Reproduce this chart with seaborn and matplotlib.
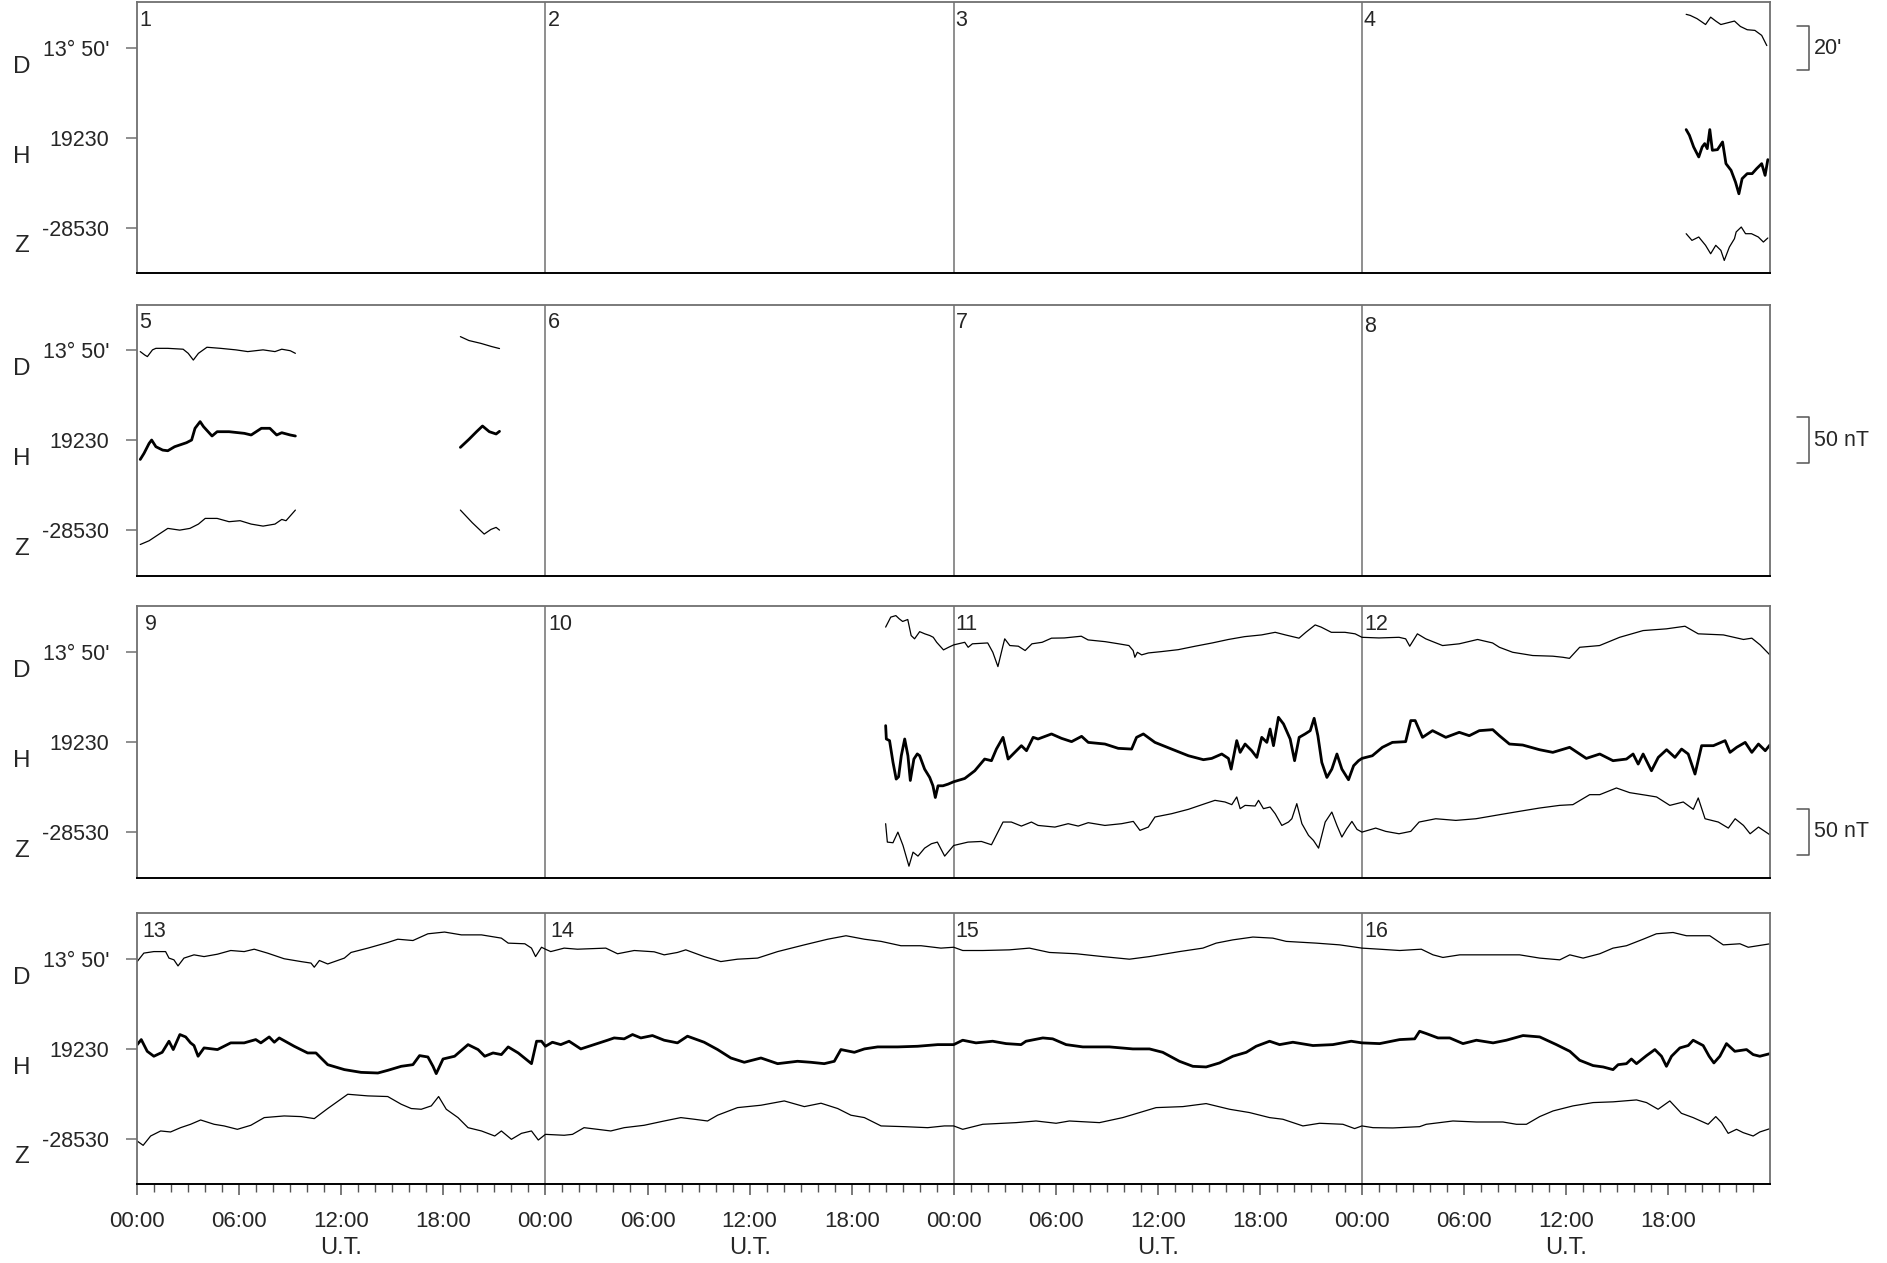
import numpy as np
import pandas as pd
import matplotlib
matplotlib.use("Agg")
import matplotlib.pyplot as plt
import matplotlib.transforms as mtransforms
import seaborn as sns

sns.set_style("white")
plt.rcParams["font.family"] = ["Liberation Sans", "DejaVu Sans"]

# ==========================================
# DATA
# time = hours since day 1 00:00 UT
# D in arcmin from 13°50', H in nT from 19230, Z in nT from -28530
# ==========================================

# day 4, evening piece
DAY4_D_T = [91.06, 91.3, 91.7, 92.0, 92.2, 92.5, 92.8, 93.1, 93.4, 93.9, 94.25, 94.65, 95.1, 95.5, 95.8]
DAY4_D = [15.6, 15.1, 13.6, 12.0, 10.9, 14.3, 12.5, 10.9, 11.5, 12.5, 10.0, 8.5, 8.2, 5.9, 1.2]
DAY4_H_T = [91.06, 91.25, 91.5, 91.8, 92.0, 92.15, 92.3, 92.45, 92.6, 92.9, 93.2, 93.4, 93.7,
            93.96, 94.16, 94.35, 94.65, 94.94, 95.2, 95.5, 95.7, 95.86]
DAY4_H = [9.1, 2.9, -9.9, -20.8, -9.9, -6.2, -11.7, 9.1, -13.5, -12.8, -4.4, -28.1, -35.4,
          -48.2, -61.0, -44.5, -39.0, -39.0, -33.6, -28.1, -40.9, -23.7]
DAY4_Z_T = [91.06, 91.4, 91.8, 92.2, 92.5, 92.8, 93.1, 93.3, 93.6, 93.9, 94.0, 94.3, 94.55,
            94.9, 95.3, 95.6, 95.86]
DAY4_Z = [-6.6, -13.9, -10.2, -19.3, -28.5, -19.3, -24.8, -35.8, -21.2, -12.0, -4.7, 0.7, -6.6,
          -6.6, -10.2, -15.7, -11.3]

# day 5, morning piece
DAY5A_D_T = [96.18, 96.45, 96.6, 96.9, 97.1, 97.8, 98.7, 99.0, 99.3, 99.6, 100.1, 100.9, 101.8,
             102.5, 103.4, 104.1, 104.5, 105.0, 105.3]
DAY5A_D = [-0.6, -2.2, -2.9, 0.2, 0.9, 0.9, 0.5, -1.4, -4.5, -1.4, 1.4, 0.9, 0.2,
           -0.6, 0.2, -0.6, 0.5, -0.2, -1.4]
DAY5A_H_T = [96.18, 96.4, 96.7, 96.85, 97.1, 97.5, 97.8, 98.2, 98.9, 99.2, 99.4, 99.7, 99.9,
             100.4, 100.7, 101.4, 102.3, 102.7, 103.3, 103.8, 104.2, 104.5, 105.0, 105.3]
DAY5A_H = [-21.2, -14.6, -3.7, 0.0, -7.3, -11.0, -11.7, -7.3, -2.9, 0.0, 12.8, 20.1, 14.6,
           4.4, 9.1, 9.1, 7.3, 5.5, 12.8, 12.8, 5.5, 8.0, 5.5, 4.4]
DAY5A_Z_T = [96.18, 96.7, 97.35, 97.8, 98.5, 99.1, 99.6, 100.0, 100.7, 101.4, 102.05, 102.7,
             103.4, 104.1, 104.5, 104.75, 105.3]
DAY5A_Z = [-16.1, -12.0, -4.0, 1.5, -0.4, 1.5, 6.2, 12.4, 12.4, 8.8, 9.9, 6.2,
           4.0, 6.2, 11.3, 9.9, 21.5]

# day 5, evening piece
DAY5B_D_T = [115.0, 115.5, 116.2, 116.85, 117.3]
DAY5B_D = [6.3, 4.5, 3.2, 1.7, 0.8]
DAY5B_H_T = [115.0, 115.5, 115.95, 116.3, 116.7, 117.1, 117.3]
DAY5B_H = [-8.0, 0.7, 9.1, 15.3, 9.1, 6.6, 9.5]
DAY5B_Z_T = [115.0, 115.7, 116.4, 116.8, 117.1, 117.3]
DAY5B_Z = [21.5, 7.7, -4.7, 0.4, 2.6, -0.4]

# day 10 20:00 to end of day 12
ROW3_D_T = [236.0, 236.3, 236.6, 236.8, 237.0, 237.3, 237.5, 237.7, 238.0, 238.3, 238.6, 238.8,
            239.0, 239.4, 239.7, 240.0, 240.65, 240.85, 241.1, 242.0, 242.3, 242.6, 242.9, 243.0,
            243.3, 243.8, 244.2, 244.6, 245.2, 245.75, 246.5, 247.5, 247.9, 248.9, 249.7, 250.3,
            250.55, 250.65, 250.8, 251.05, 251.45, 252.2, 253.2, 254.2, 255.2, 256.15, 257.1,
            258.1, 258.9, 259.5, 260.3, 260.7, 261.25, 261.6, 262.2, 263.0, 263.6,
            264.0, 265.0, 266.18, 266.57, 266.81, 267.26, 267.75, 268.74, 269.72, 270.8, 271.68,
            272.08, 272.86, 274.04, 275.22, 275.81, 276.2, 276.8, 277.97, 279.15, 280.53, 281.9,
            282.99, 283.77, 285.25, 286.43, 286.92, 287.41, 287.98]
ROW3_D = [11.6, 16.2, 16.9, 15.4, 14.2, 15.1, 7.7, 6.2, 9.5, 8.5, 7.7, 6.9,
          4.6, 1.1, 2.3, 3.4, 4.6, 2.3, 3.9, 4.3, 0.0, -6.6, 3.1, 6.2,
          3.1, 2.8, 0.8, 3.9, 4.6, 6.5, 6.6, 7.4, 5.7, 4.9, 3.9, 3.1,
          0.8, -2.3, 0.0, -1.2, -0.3, 0.3, 1.2, 2.8, 4.3, 5.9, 7.2,
          8.0, 9.2, 8.0, 6.5, 9.2, 12.6, 11.6, 9.2, 9.2, 8.5,
          6.9, 6.6, 6.9, 6.2, 2.8, 8.5, 6.2, 3.1, 3.9, 5.9, 4.3,
          2.3, 0.0, -1.5, -1.8, -2.3, -2.8, 2.3, 3.1, 6.9, 10.0, 10.8,
          12.0, 8.5, 8.0, 5.9, 6.5, 3.4, -1.2]
ROW3_H_T = [236.0, 236.04, 236.23, 236.43, 236.62, 236.76, 236.92, 237.12, 237.31, 237.45,
            237.66, 237.86, 238.0, 238.29, 238.59, 238.78, 238.92, 239.08, 239.37, 239.67,
            240.0, 240.65, 241.24, 241.82, 242.22, 242.51, 242.9, 243.2, 243.59, 243.98,
            244.28, 244.67, 244.96, 245.75, 246.34, 246.93, 247.52, 247.91, 248.89, 249.67,
            250.46, 250.75, 251.15, 251.83, 252.81, 253.8, 254.68, 255.17, 255.76, 256.15,
            256.31, 256.64, 256.84, 257.13, 257.52, 257.82, 258.11, 258.41, 258.6, 258.8,
            259.09, 259.39, 259.78, 260.04, 260.31, 260.66, 260.96, 261.19, 261.41, 261.64,
            261.94, 262.23, 262.53, 262.82, 263.21, 263.51, 263.8,
            264.0, 264.61, 265.2, 265.79, 266.57, 266.87, 267.13, 267.56, 268.15, 268.93,
            269.72, 270.31, 270.9, 271.69, 272.08, 272.67, 273.45, 274.44, 275.22, 276.21,
            277.19, 277.98, 278.76, 279.55, 279.94, 280.24, 280.53, 281.02, 281.42, 281.91,
            282.4, 282.79, 283.18, 283.58, 283.97, 284.66, 285.35, 285.64, 286.03, 286.53,
            286.92, 287.31, 287.71, 287.98]
ROW3_H = [17.9, 3.3, 1.5, -22.0, -40.5, -38.0, -15.0, 3.3, -15.0, -42.0,
          -18.6, -13.0, -15.0, -29.6, -38.7, -47.8, -60.6, -47.8, -47.8, -46.0,
          -43.4, -39.8, -31.4, -18.6, -20.4, -7.7, 5.1, -18.6, -11.3, -4.0,
          -9.5, 5.1, 3.3, 8.8, 4.0, 0.4, 6.2, -0.4, -2.2, -6.9,
          -7.7, 5.1, 8.8, -0.4, -7.7, -15.0, -19.3, -17.9, -13.1, -17.9,
          -29.6, 1.5, -11.3, -2.2, -9.5, -16.8, 5.1, -0.4, 14.2, -4.0,
          27.0, 19.7, 3.3, -20.4, 5.1, 8.8, 12.4, 25.9, 6.9, -22.3,
          -38.7, -29.6, -13.1, -29.6, -41.2, -25.9, -20.4,
          -17.9, -15.0, -5.8, -0.4, 0.4, 23.4, 23.4, 5.1, 12.4, 5.1,
          10.6, 6.9, 12.4, 13.5, 6.9, -2.2, -3.3, -8.4, -11.3, -5.8,
          -17.9, -13.1, -20.4, -18.6, -13.1, -24.1, -13.1, -31.4, -16.8, -8.4,
          -16.8, -7.7, -13.1, -35.0, -4.0, -4.0, 1.5, -11.3, -5.8, -0.4,
          -11.3, -2.2, -9.5, -3.3]
ROW3_Z_T = [236.0, 236.1, 236.43, 236.72, 237.02, 237.37, 237.61, 237.9, 238.29, 238.69,
            239.04, 239.47, 240.0, 240.84, 241.63, 242.22, 242.9, 243.39, 243.98, 244.57,
            244.96, 245.95, 246.73, 247.32, 247.91, 248.89, 249.87, 250.56, 250.95, 251.44,
            251.83, 252.81, 253.8, 254.78, 255.36, 255.95, 256.35, 256.64, 256.84, 257.13,
            257.72, 257.92, 258.21, 258.6, 258.9, 259.29, 259.68, 259.88, 260.17, 260.47,
            260.86, 261.15, 261.45, 261.84, 262.23, 262.53, 262.82, 263.11, 263.41, 263.71,
            264.0, 264.81, 265.4, 266.18, 266.87, 267.36, 268.34, 269.52, 270.7, 272.08,
            273.26, 274.44, 275.62, 276.4, 277.39, 277.98, 278.96, 279.74, 280.73, 281.32,
            282.1, 282.89, 283.48, 283.77, 284.17, 284.95, 285.54, 285.94, 286.43, 286.82,
            287.31, 287.98]
ROW3_Z = [8.8, -11.3, -12.0, -0.4, -15.0, -37.6, -22.3, -26.6, -17.9, -13.1,
          -11.3, -26.6, -15.0, -11.3, -10.6, -14.2, 10.6, 10.6, 6.2, 10.6,
          6.9, 5.1, 8.8, 6.2, 9.9, 6.9, 8.8, 11.3, 1.5, 5.1,
          16.1, 19.7, 24.5, 30.7, 34.3, 32.5, 29.6, 38.0, 25.2, 28.8,
          28.1, 34.3, 25.2, 27.0, 19.7, 6.9, 10.6, 14.2, 30.7, 8.8,
          -4.0, -9.5, -17.9, 10.6, 21.5, 6.9, -5.8, 3.3, 11.3, 2.6,
          -0.4, 4.0, 0.4, -2.2, 0.4, 10.6, 14.2, 12.4, 14.2, 18.6,
          22.3, 25.9, 28.8, 29.6, 40.5, 40.5, 47.8, 42.7, 39.8, 38.0,
          28.8, 32.5, 24.5, 36.9, 14.2, 10.6, 4.0, 14.2, 6.9, -2.2,
          5.1, -3.3]

# days 13 to 16
ROW4_D_T = [288.0, 288.39, 288.98, 289.67, 289.87, 290.16, 290.4, 290.75, 291.34, 291.93,
            292.72, 293.5, 294.29, 294.88, 295.66, 296.64, 297.63, 298.22, 298.41, 298.71,
            299.2, 300.18, 300.57, 301.56, 302.73, 303.32, 304.21, 305.09, 306.07, 307.06,
            308.24, 309.41, 309.81, 310.79, 311.18, 311.42, 311.77,
            312.0, 312.31, 313.1, 313.88, 315.55, 316.24, 317.22, 318.39, 318.98, 319.76,
            320.25, 321.33, 322.31, 323.29, 324.47, 325.65, 327.22, 328.59, 329.67, 330.75,
            331.73, 332.9, 334.08, 335.25,
            336.0, 336.53, 337.71, 339.27, 340.45, 341.63, 343.2, 344.76, 346.33, 347.51,
            349.27, 350.65, 351.43, 352.41, 353.59, 354.76, 355.55, 357.31, 358.69,
            360.0, 361.04, 362.22, 363.49, 364.18, 364.76, 365.75, 367.71, 369.27, 370.45,
            371.63, 372.22, 373.0, 373.98, 374.76, 375.55, 376.53, 377.31, 378.29, 379.08,
            380.45, 381.24, 382.22, 382.71, 384.0]
ROW4_D = [-1.1, 2.8, 3.5, 3.5, 0.5, -0.3, -3.1, 0.5, 2.0, 1.2,
          2.3, 4.0, 3.5, 4.6, 2.8, 0.2, -1.1, -1.8, -3.7, -0.6,
          -2.2, 0.5, 3.1, 5.1, 7.7, 9.2, 8.6, 11.7, 12.5, 11.2,
          11.2, 9.7, 7.4, 7.1, 5.1, 1.2, 5.5,
          4.6, 3.5, 5.1, 4.6, 5.1, 2.5, 4.0, 3.4, 2.0, 3.1,
          4.3, 1.2, -1.1, 0.0, 0.5, 3.5, 6.6, 9.2, 10.8, 9.2,
          8.2, 6.2, 6.2, 5.1,
          5.5, 4.0, 4.0, 4.3, 5.1, 3.1, 2.5, 1.2, 0.0, 1.2,
          3.5, 5.1, 7.4, 8.9, 10.2, 9.7, 8.2, 7.4, 6.6,
          5.1, 4.6, 4.0, 4.6, 2.0, 0.8, 2.0, 2.0, 2.0, 0.5,
          -0.3, 2.0, 0.5, 2.5, 5.1, 6.2, 9.2, 11.7, 12.3, 10.8,
          10.8, 6.6, 7.1, 5.5, 7.1]
ROW4_H_T = [288.0, 288.24, 288.59, 288.98, 289.47, 289.87, 290.12, 290.51, 290.85, 291.14,
            291.34, 291.58, 291.93, 292.72, 293.5, 294.29, 294.97, 295.27, 295.76, 296.06,
            296.35, 297.23, 298.02, 298.51, 299.2, 300.18, 301.16, 302.15, 302.73, 303.52,
            304.21, 304.6, 305.09, 305.39, 305.58, 305.98, 306.66, 307.45, 308.04, 308.43,
            308.92, 309.41, 309.81, 310.4, 311.18, 311.48, 311.77,
            312.0, 312.41, 312.9, 313.39, 314.08, 314.86, 315.65, 316.04, 316.63, 317.12,
            317.61, 318.29, 318.98, 319.76, 320.35, 321.33, 322.12, 322.9, 323.69, 324.67,
            325.65, 326.82, 327.61, 328.39, 328.98, 329.37, 330.16, 330.75, 331.53, 332.71,
            333.88, 335.06,
            336.0, 336.53, 337.31, 338.29, 339.08, 339.96, 340.25, 341.24, 341.82, 342.61,
            343.59, 345.16, 346.53, 347.51, 348.29, 349.27, 350.06, 350.84, 351.63, 352.41,
            353.2, 353.78, 354.57, 355.16, 355.94, 357.12, 358.29, 359.37,
            360.0, 361.04, 362.22, 363.1, 363.39, 363.78, 364.47, 365.16, 365.94, 366.73,
            367.71, 368.49, 369.47, 370.45, 371.43, 372.22, 372.8, 373.59, 374.18, 374.76,
            375.06, 375.55, 375.84, 376.14, 376.73, 377.22, 377.61, 377.9, 378.2, 378.69,
            379.18, 379.47, 380.06, 380.41, 380.69, 381.04, 381.43, 381.92, 382.61, 383.0,
            383.39, 384.0]
ROW4_H = [4.7, 10.2, -2.6, -8.0, -3.7, 8.4, -0.7, 15.7, 13.1, 6.6,
          3.7, -8.0, 1.1, -0.7, 6.6, 6.6, 10.2, 6.6, 13.1, 7.3,
          12.0, 2.9, -4.4, -4.4, -17.2, -22.6, -25.6, -26.3, -23.4, -19.0,
          -17.2, -7.3, -8.8, -19.0, -27.0, -11.0, -8.0, 4.7, -0.7, -8.0,
          -4.4, -6.2, 2.2, -4.4, -16.1, 8.4, 8.4,
          2.9, 7.3, 4.7, 8.4, 0.0, 4.7, 9.5, 12.0, 11.0, 15.7,
          12.0, 14.6, 9.5, 6.6, 13.9, 7.3, -0.7, -9.9, -14.6, -9.9,
          -16.1, -13.5, -14.6, -16.1, -13.5, -0.7, -3.7, 0.0, 2.2, 2.2,
          2.9, 4.7,
          4.7, 9.5, 6.6, 8.4, 5.8, 4.7, 8.4, 12.0, 11.0, 4.7,
          2.2, 2.2, 0.0, 0.0, -3.7, -13.5, -19.0, -19.7, -15.3, -8.0,
          -3.7, 2.9, 8.4, 4.7, 7.3, 3.7, 4.7, 8.4,
          6.6, 5.8, 10.2, 11.0, 19.3, 16.8, 12.0, 12.0, 5.8, 9.5,
          6.6, 9.5, 14.6, 13.1, 4.7, -2.6, -12.4, -18.2, -19.7, -22.6,
          -17.2, -16.1, -11.0, -16.1, -7.3, -0.7, -8.0, -19.0, -8.0, 1.1,
          3.7, 9.5, 3.7, -8.0, -15.3, -8.0, 5.8, -2.6, -0.7, -6.2,
          -8.0, -5.1]
ROW4_Z_T = [288.0, 288.35, 288.79, 289.38, 289.96, 290.55, 291.14, 291.73, 292.52, 293.11,
            293.89, 294.68, 295.47, 296.64, 297.63, 298.41, 299.2, 300.38, 301.56, 302.73,
            303.52, 304.11, 304.7, 305.29, 305.72, 306.17, 306.86, 307.45, 308.24, 309.02,
            309.41, 310.0, 310.59, 311.18, 311.58,
            312.0, 313.1, 313.59, 314.27, 315.06, 315.84, 316.63, 317.8, 318.98, 319.96,
            320.75, 321.53, 322.12, 323.29, 324.67, 326.04, 327.22, 328.2, 329.18, 329.96,
            330.75, 331.73, 333.1, 334.47, 335.45,
            336.0, 336.53, 337.71, 339.67, 340.84, 342.02, 342.8, 344.57, 345.94, 347.9,
            349.47, 350.84, 352.22, 353.39, 354.57, 355.35, 356.53, 357.51, 358.88, 359.57,
            360.0, 360.65, 361.82, 363.39, 363.78, 365.35, 366.73, 368.29, 369.08, 369.67,
            370.45, 371.24, 372.41, 373.59, 374.76, 376.14, 376.73, 377.41, 378.1, 378.78,
            379.47, 380.35, 380.8, 381.14, 381.53, 382.02, 382.41, 383.0, 383.39, 384.0]
ROW4_Z = [-2.6, -7.3, 2.9, 8.4, 7.3, 12.0, 15.7, 20.4, 15.7, 13.9,
          10.2, 14.6, 23.0, 24.8, 24.1, 21.9, 32.9, 48.5, 46.7, 46.0,
          37.6, 32.9, 32.1, 35.8, 46.0, 32.1, 23.0, 12.0, 8.4, 2.9,
          8.4, -0.7, 5.8, 8.4, -1.5,
          4.7, 3.7, 4.7, 12.0, 10.2, 8.4, 12.0, 14.6, 19.3, 23.0,
          21.2, 19.3, 25.6, 33.9, 36.5, 41.2, 35.0, 38.7, 32.9, 25.6,
          23.0, 13.9, 13.1, 12.0, 13.9,
          13.9, 10.2, 15.7, 17.5, 19.3, 16.8, 19.3, 17.5, 23.0, 33.9,
          35.0, 38.3, 32.1, 28.5, 23.0, 21.2, 13.9, 16.8, 15.7, 11.0,
          13.9, 12.0, 11.7, 13.1, 15.7, 19.3, 18.2, 18.2, 15.7, 15.7,
          24.1, 30.3, 35.8, 39.4, 40.2, 42.3, 39.4, 32.1, 41.2, 27.7,
          23.0, 15.7, 24.1, 17.5, 5.8, 10.2, 6.6, 2.9, 7.3, 11.0]

COMPONENTS = ["D", "H", "Z"]
Y_LABELS = ["13° 50'", "19230", "-28530"]
HOUR_LABELS = ["00:00", "06:00", "12:00", "18:00"]
DAY_LABELS = [str(d) for d in range(1, 17)]
# scale bars: row, component, half length (arcmin or nT), text
SCALE_BARS = [(0, "D", 10, "20'"), (1, "H", 25, "50 nT"), (2, "Z", 25, "50 nT")]

# plot units: 1 unit = 1 nT, D drawn at 2.37 units per arcmin
BASE = {"D": 98.0, "H": 0.0, "Z": -98.0}
UNIT = {"D": 2.37, "H": 1.0, "Z": 1.0}
LW = {"D": 0.9, "H": 2.0, "Z": 0.9}

segments = [
    ("day4", "D", DAY4_D_T, DAY4_D), ("day4", "H", DAY4_H_T, DAY4_H), ("day4", "Z", DAY4_Z_T, DAY4_Z),
    ("day5a", "D", DAY5A_D_T, DAY5A_D), ("day5a", "H", DAY5A_H_T, DAY5A_H), ("day5a", "Z", DAY5A_Z_T, DAY5A_Z),
    ("day5b", "D", DAY5B_D_T, DAY5B_D), ("day5b", "H", DAY5B_H_T, DAY5B_H), ("day5b", "Z", DAY5B_Z_T, DAY5B_Z),
    ("run", "D", ROW3_D_T, ROW3_D), ("run", "H", ROW3_H_T, ROW3_H), ("run", "Z", ROW3_Z_T, ROW3_Z),
    ("run", "D", ROW4_D_T, ROW4_D), ("run", "H", ROW4_H_T, ROW4_H), ("run", "Z", ROW4_Z_T, ROW4_Z),
]

records = []
for seg, comp, ts, vs in segments:
    for t, v in zip(ts, vs):
        records.append((seg, comp, t, v))
df = pd.DataFrame(records, columns=["seg", "comp", "t", "val"])
df["row"] = np.minimum(df["t"] // 96, 3).astype(int)
df["x"] = df["t"] - df["row"] * 96
df["y"] = df["comp"].map(BASE) + df["val"] * df["comp"].map(UNIT)

# ==========================================
# FIGURE
# ==========================================
fig = plt.figure(figsize=(18.87, 12.63), dpi=100)
left, width, height = 0.0727, 0.8654, 0.2146
bottoms = [0.7835, 0.5443, 0.3052, 0.0622]
axes = [fig.add_axes([left, b, width, height]) for b in bottoms]

frame = "#707070"
for r, ax in enumerate(axes):
    sub = df[df["row"] == r]
    for comp in COMPONENTS:
        part = sub[sub["comp"] == comp]
        if part.empty:
            continue
        sns.lineplot(data=part, x="x", y="y", units="seg", estimator=None, sort=False,
                     color="black", linewidth=LW[comp], ax=ax, legend=False)
    ax.set_xlim(0, 96)
    ax.set_ylim(-148, 148)
    ax.set_xlabel("")
    ax.set_ylabel("")
    for d in (24, 48, 72):
        ax.axvline(d, color=frame, lw=1.1, zorder=1)
    for name in ("top", "left", "right"):
        ax.spines[name].set_color(frame)
        ax.spines[name].set_linewidth(1.3)
    ax.spines["bottom"].set_color("black")
    ax.spines["bottom"].set_linewidth(1.4)

    ax.set_yticks([BASE[c] for c in COMPONENTS])
    ax.set_yticklabels(Y_LABELS)
    ax.tick_params(axis="y", left=True, direction="out", length=8, width=1.1,
                   color=frame, pad=12, labelsize=15.5)

    trans = mtransforms.blended_transform_factory(ax.transAxes, ax.transData)
    for c in COMPONENTS:
        ax.text(-0.0709, BASE[c] - 20.5, c, transform=trans, ha="center", va="center", fontsize=17.5)

    # day numbers
    for k in range(4):
        day = r * 4 + k + 1
        dx = {9: 0.45, 10: 0.2, 13: 0.3, 14: 0.3}.get(day, 0.12)
        dy = 0.958 if day == 8 else 0.972
        tx = mtransforms.blended_transform_factory(ax.transData, ax.transAxes)
        ax.text(k * 24 + dx, dy, DAY_LABELS[day - 1], transform=tx, ha="left", va="top", fontsize=15.5)

    if r < 3:
        ax.set_xticks([])
        ax.tick_params(axis="x", bottom=False, labelbottom=False)

# time axis on the bottom row
ax = axes[3]
ax.set_xticks(np.arange(0, 96, 6))
ax.set_xticklabels(HOUR_LABELS * 4)
ax.set_xticks(np.arange(0, 96, 1), minor=True)
ax.tick_params(axis="x", which="major", bottom=True, direction="out", length=8, width=1.1,
               color="#555555", pad=11, labelsize=16)
ax.tick_params(axis="x", which="minor", bottom=True, direction="out", length=5.5, width=1.0,
               color="#555555")
tx = mtransforms.blended_transform_factory(ax.transData, ax.transAxes)
for k in range(4):
    ax.text(k * 24 + 12, -0.236, "U.T.", transform=tx, ha="center", va="center", fontsize=17)

# scale bars at the right
for r, comp, half, text in SCALE_BARS:
    ax = axes[r]
    trans = mtransforms.blended_transform_factory(ax.transAxes, ax.transData)
    y0 = BASE[comp] - half * UNIT[comp]
    y1 = BASE[comp] + half * UNIT[comp]
    ax.plot([1.0164, 1.0237, 1.0237, 1.0164], [y1, y1, y0, y0], transform=trans,
            clip_on=False, color="#555555", lw=1.1)
    ax.text(1.027, BASE[comp], text, transform=trans, ha="left", va="center", fontsize=15.5)

fig.savefig("out.png", dpi=100)
